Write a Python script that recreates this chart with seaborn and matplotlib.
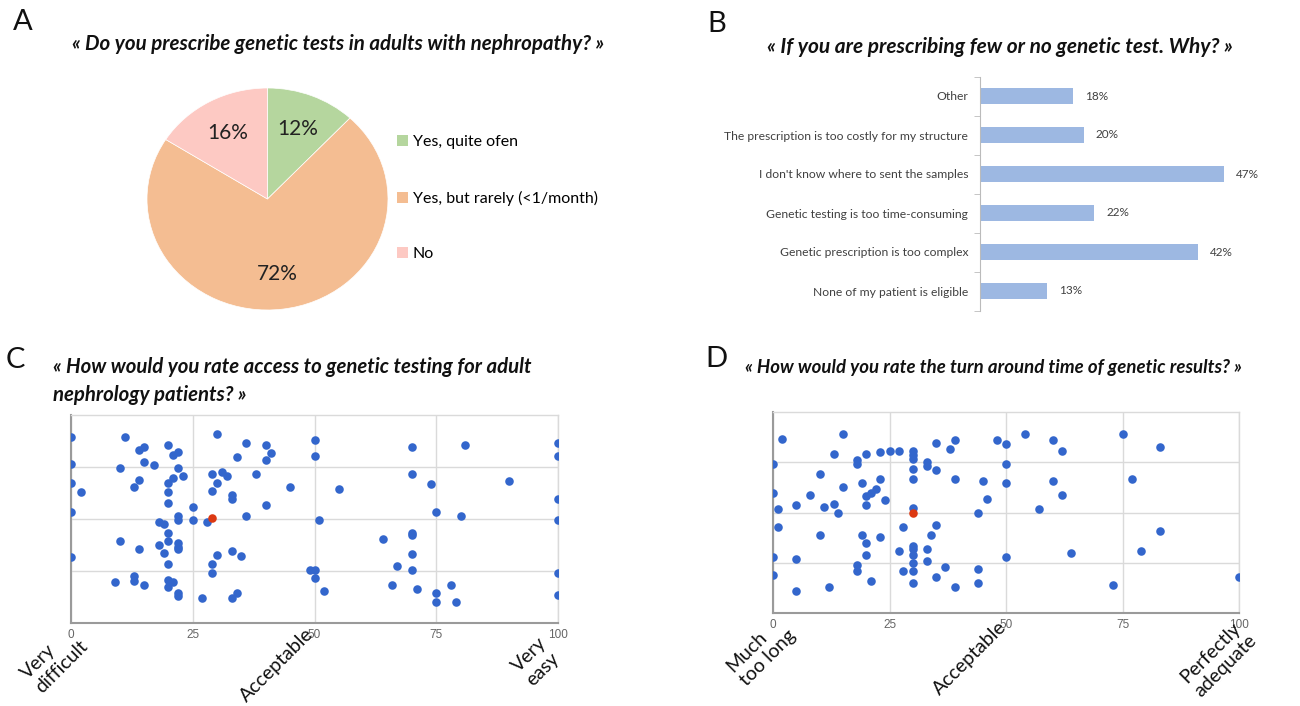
import matplotlib
matplotlib.use("Agg")
import matplotlib.pyplot as plt
import matplotlib.transforms as mtransforms
from matplotlib.patches import Patch
import numpy as np
import seaborn as sns

# Data -----------------------------------------------------------------
pie_labels = ["Yes, quite ofen", "Yes, but rarely (<1/month)", "No"]
pie_values = [12, 72, 16]
pie_colors = ["#B5D69E", "#F4BD92", "#FDC9C3"]

reasons = [
    "Other",
    "The prescription is too costly for my structure",
    "I don't know where to sent the samples",
    "Genetic testing is too time-consuming",
    "Genetic prescription is too complex",
    "None of my patient is eligible",
]
reason_pct = [18, 20, 47, 22, 42, 13]

# panel C: score (0-100) and vertical jitter row (0-4)
access_x = [0, 11, 30, 36, 40, 50, 50, 14, 15, 20, 22, 21, 15, 17, 10, 0, 22, 34, 41, 40,
            29, 31, 32, 38, 23, 21, 20, 14, 13, 0, 2, 20, 20, 30, 29, 33, 33, 45, 40, 0,
            25, 22, 22, 25, 28, 36, 51, 18, 19, 20, 20, 10, 22, 22, 22, 18, 14, 19, 20, 0,
            30, 33, 35, 29, 29, 49, 50, 50, 52, 9, 13, 13, 15, 20, 21, 20, 22, 22, 27, 33,
            34, 70, 81, 100, 100, 55, 70, 74, 90, 100, 75, 80, 100, 64, 70, 70, 70, 67, 70, 100,
            66, 71, 78, 75, 75, 79, 100]
access_y = [3.58, 3.58, 3.63, 3.47, 3.42, 3.51, 3.22, 3.33, 3.38, 3.42, 3.29, 3.23, 3.10, 3.03, 2.98, 3.06, 2.99, 3.19, 3.26, 3.13,
            2.87, 2.91, 2.83, 2.87, 2.83, 2.78, 2.70, 2.75, 2.62, 2.70, 2.51, 2.51, 2.30, 2.70, 2.54, 2.46, 2.38, 2.62, 2.26, 2.14,
            2.23, 2.06, 1.98, 1.98, 1.95, 2.06, 1.98, 1.95, 1.90, 1.74, 1.58, 1.58, 1.53, 1.47, 1.42, 1.50, 1.42, 1.34, 1.13, 1.26,
            1.31, 1.38, 1.29, 1.13, 0.97, 1.02, 1.02, 0.86, 0.62, 0.78, 0.90, 0.81, 0.73, 0.83, 0.78, 0.70, 0.58, 0.51, 0.49, 0.49,
            0.57, 3.39, 3.42, 3.47, 3.22, 2.58, 2.87, 2.67, 2.74, 2.38, 2.14, 2.06, 1.98, 1.62, 1.74, 1.69, 1.33, 1.10, 1.01, 0.97,
            0.74, 0.65, 0.74, 0.58, 0.41, 0.41, 0.54]
access_mean_x = [29]
access_mean_y = [2.01]

# panel D
delay_x = [2, 15, 13, 18, 18, 20, 23, 25, 27, 30, 30, 30, 30, 30, 33, 33, 35, 35, 38, 39,
           39, 48, 50, 50, 50, 45, 46, 44, 54, 0, 10, 0, 15, 19, 23, 8, 22, 21, 20, 24,
           20, 5, 11, 13, 14, 1, 30, 1, 10, 19, 23, 20, 20, 28, 35, 34, 27, 30, 30, 30,
           30, 30, 28, 33, 33, 0, 5, 18, 18, 0, 37, 35, 21, 30, 39, 44, 44, 50, 5, 12,
           60, 62, 75, 83, 60, 62, 57, 77, 83, 79, 64, 73, 100]
delay_y = [3.47, 3.56, 3.16, 3.05, 2.96, 3.16, 3.21, 3.23, 3.23, 3.23, 3.14, 3.07, 2.87, 2.67, 3.01, 2.93, 2.84, 3.39, 3.27, 3.44,
           2.67, 3.44, 3.36, 2.96, 2.59, 2.63, 2.27, 1.99, 3.56, 2.96, 2.76, 2.39, 2.51, 2.59, 2.67, 2.35, 2.47, 2.38, 2.33, 2.24,
           2.15, 2.15, 2.11, 2.16, 1.99, 2.07, 2.08, 1.71, 1.55, 1.55, 1.51, 1.39, 1.15, 1.71, 1.75, 1.55, 1.23, 1.34, 1.27, 1.15,
           0.99, 0.83, 0.83, 1.28, 1.03, 1.11, 1.07, 0.96, 0.84, 0.75, 0.91, 0.71, 0.63, 0.59, 0.51, 0.87, 0.59, 1.11, 0.43, 0.51,
           3.44, 3.23, 3.56, 3.31, 2.63, 2.35, 2.07, 2.67, 1.63, 1.23, 1.19, 0.55, 0.71]
delay_mean_x = [30]
delay_mean_y = [1.99]

score_ticks = [0, 25, 50, 75, 100]
access_words = [(0, "Very\ndifficult", -6, 0), (50, "Acceptable", -10, -2), (100, "Very\neasy", -20, -11)]
delay_words = [(0, "Much\ntoo long", 0, 0), (50, "Acceptable", -8, -5), (100, "Perfectly\nadequate", -5, -5)]

BLUE = "#3366CC"
RED = "#DC3912"
BAR = "#9DB8E2"

plt.rcParams["font.family"] = ["Lato", "DejaVu Sans"]

W, H = 1300, 706
fig = plt.figure(figsize=(W / 100, H / 100), dpi=100)


def box(left, top, width, height):
    # pixel box (from top-left) -> figure fraction
    return [left / W, 1 - (top + height) / H, width / W, height / H]


def ftext(x, y, s, **kw):
    fig.text(x / W, 1 - y / H, s, **kw)


title_kw = dict(fontweight="bold", fontstyle="italic", color="#111111")
letter_kw = dict(fontsize=21, color="#111111", ha="center", va="center")

# A : pie ---------------------------------------------------------------
ax_a = fig.add_axes(box(147, 88, 241, 222))
wedges, _, pcts = ax_a.pie(pie_values, colors=pie_colors, startangle=90, counterclock=False,
                           autopct="%d%%", pctdistance=0.68,
                           wedgeprops=dict(edgecolor="white", linewidth=0.5),
                           textprops=dict(fontsize=15, color="#222222"))
ax_a.set_aspect("auto")
ax_a.set_xlim(-1, 1)
ax_a.set_ylim(-1, 1)
handles = [Patch(facecolor=c, edgecolor="none") for c in pie_colors]
fig.legend(handles, pie_labels, loc="upper left", bbox_to_anchor=(397 / W, 1 - 135 / H),
           frameon=False, fontsize=11.5, handlelength=0.7, handleheight=0.7,
           handletextpad=0.3, labelspacing=2.6, borderpad=0, borderaxespad=0)
ftext(338, 44, "« Do you prescribe genetic tests in adults with nephropathy? »",
      ha="center", va="center", fontsize=14.8, **title_kw)
ftext(23, 22, "A", **letter_kw)

# B : horizontal bars ---------------------------------------------------
ax_b = fig.add_axes(box(980, 76.5, 300, 234))
sns.barplot(x=reason_pct, y=reasons, orient="h", color=BAR, saturation=1, width=0.4, ax=ax_b)
ax_b.set_xlim(0, 57.8)
ax_b.set_ylim(5.5, -0.5)
ax_b.bar_label(ax_b.containers[0], labels=[f"{v}%" for v in reason_pct], padding=8.6,
               fontsize=8.5, color="#404040")
ax_b.xaxis.set_visible(False)
for s in ["top", "right", "bottom"]:
    ax_b.spines[s].set_visible(False)
ax_b.spines["left"].set_color("#BBBBBB")
ax_b.set_yticks(np.arange(-0.5, 6, 1), minor=True)
ax_b.tick_params(axis="y", which="major", length=0, pad=8.6, labelsize=8.7, labelcolor="#404040")
ax_b.tick_params(axis="y", which="minor", length=4, color="#BBBBBB")
ax_b.set_xlabel("")
ax_b.set_ylabel("")
ftext(1000, 47, "« If you are prescribing few or no genetic test. Why? »",
      ha="center", va="center", fontsize=15, **title_kw)
ftext(717, 24, "B", **letter_kw)


# C / D : rating scatter --------------------------------------------------
def rating_panel(ax, xs, ys, mx, my, words):
    sns.scatterplot(x=xs, y=ys, color=BLUE, s=38, linewidth=0, ax=ax, zorder=3)
    sns.scatterplot(x=mx, y=my, color=RED, s=38, linewidth=0, ax=ax, zorder=4)
    ax.set_xlim(0, 100)
    ax.set_ylim(0, 4)
    ax.set_xticks(score_ticks)
    ax.set_xticklabels([str(t) for t in score_ticks], family=["Liberation Sans", "DejaVu Sans"])
    ax.set_yticks([1, 2, 3])
    ax.set_yticklabels([])
    ax.grid(True, color="#DADADA", linewidth=1)
    ax.set_axisbelow(True)
    ax.tick_params(length=0, labelsize=8.5, labelcolor="#666666", pad=4.5)
    for s in ["top", "right"]:
        ax.spines[s].set_color("#DADADA")
        ax.spines[s].set_linewidth(1)
    for s in ["left", "bottom"]:
        ax.spines[s].set_color("#9A9A9A")
        ax.spines[s].set_linewidth(1.5)
    for x, s, dx, dy in words:
        tr = mtransforms.offset_copy(ax.get_xaxis_transform(), fig=fig, x=dx, y=dy, units="dots")
        ax.text(x, 0, s, transform=tr, rotation=45, rotation_mode="anchor", ha="right", va="top",
                multialignment="left", fontsize=14, color="#111111", clip_on=False)


ax_c = fig.add_axes(box(71, 415, 487, 208))
rating_panel(ax_c, access_x, access_y, access_mean_x, access_mean_y, access_words)
ftext(53, 381, "« How would you rate access to genetic testing for adult\nnephrology patients? »",
      ha="left", va="center", linespacing=1.45, fontsize=14.7, **title_kw)
ftext(15, 360, "C", **letter_kw)

ax_d = fig.add_axes(box(773, 412, 466, 201))
rating_panel(ax_d, delay_x, delay_y, delay_mean_x, delay_mean_y, delay_words)
ftext(745, 368, "« How would you rate the turn around time of genetic results? »",
      ha="left", va="center", fontsize=13.4, **title_kw)
ftext(716, 359, "D", **letter_kw)

fig.savefig("out.png", dpi=100, facecolor="white")
